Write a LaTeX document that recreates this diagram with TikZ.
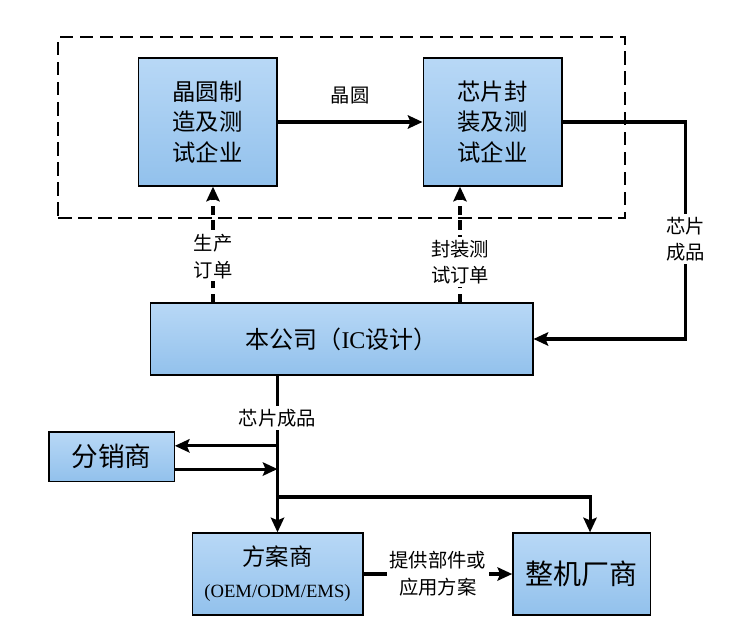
\documentclass[tikz,border=0pt]{standalone}
\usepackage{fontspec}
\setmainfont{Liberation Serif}
\newfontfamily\cjk{Noto Sans CJK SC}
\usepackage{xcolor}
\usepackage{tikz}
\usetikzlibrary{arrows.meta}
\usetikzlibrary{positioning}
\definecolor{boxtop}{RGB}{184,216,246}
\definecolor{boxbot}{RGB}{146,193,236}

\begin{document}
\begin{tikzpicture}
        [x=0.75pt,y=-0.75pt,
          every node/.style={align=center,inner sep=0pt},
          firm/.style={draw=black,line width=1pt,top color=boxtop,bottom color=boxbot,
            font=\cjk\fontsize{17.5}{23}\selectfont},
          frame/.style={draw=black,line width=1.6pt,dash pattern=on 10pt off 5pt},
          flow/.style={line width=2.3pt,-{Stealth[length=11pt,width=10pt,inset=2pt]}},
          order/.style={flow,dash pattern=on 7pt off 4pt},
          tag/.style={fill=white,inner sep=2pt,font=\cjk\fontsize{14.5}{20}\selectfont}]
        \useasboundingbox (0,0) rectangle (756,642);
        \node[frame,minimum width=425pt,minimum height=136pt] (grp) at (341.5,127.5) {};
        \node[firm,minimum width=104pt,minimum height=96pt] (fab) at (207.5,122) {晶圆制\\造及测\\试企业};
        \node[firm,minimum width=104pt,minimum height=96pt] (pkg) at (492.5,122) {芯片封\\装及测\\试企业};
        \node[firm,minimum width=287pt,minimum height=54pt,font=\fontsize{18}{22}\selectfont] (ic) at (341.5,339)
          {{\cjk 本公司（}IC{\cjk 设计）}};
        \node[firm,minimum width=94pt,minimum height=37pt,font=\cjk\fontsize{20}{24}\selectfont] (dist) at (111.5,456.5) {分销商};
        \node[firm,minimum width=128pt,minimum height=61.5pt] (plan) at (277.5,574)
          {方案商\\[1pt]{\rmfamily\fontsize{14}{16}\selectfont (OEM/ODM/EMS)}};
        \node[firm,minimum width=103pt,minimum height=61.5pt,font=\cjk\fontsize{21}{24}\selectfont] (oem) at (581.5,574) {整机厂商};
        % orders going up
        \coordinate (o1) at (213,303);
        \coordinate (o2) at (460,303);
        \draw[order] (o1) -- node[tag,pos=0.4] {生产\\订单} (o1 |- fab.south);
        \draw[order] (o2) -- node[tag,pos=0.35] {封装测\\试订单} (o2 |- pkg.south);
        % chips coming down
        \draw[flow] (fab) -- node[tag,above=10pt] {晶圆} (pkg);
        \draw[flow] (pkg.east) -- ++(123,0) |- node[tag,pos=0.27] {芯片\\成品} (ic.east);
        \coordinate (split) at (plan.north |- 0,497);
        \coordinate (d1) at ([yshift=8pt]dist.east);
        \coordinate (d2) at ([yshift=-9.4pt]dist.east);
        \draw[flow] (ic.south -| plan.north) -- node[tag,pos=0.27] {芯片成品} (plan.north);
        \draw[flow] (d1 -| plan.north) -- (d1);
        \draw[flow] (d2) -- (d2 -| plan.north);
        \draw[flow] (split) -| ([xshift=6.4pt]oem.north);
        \draw[flow] (plan.east) -- node[tag] {提供部件或\\应用方案} (oem.west);
      \end{tikzpicture}
\end{document}
